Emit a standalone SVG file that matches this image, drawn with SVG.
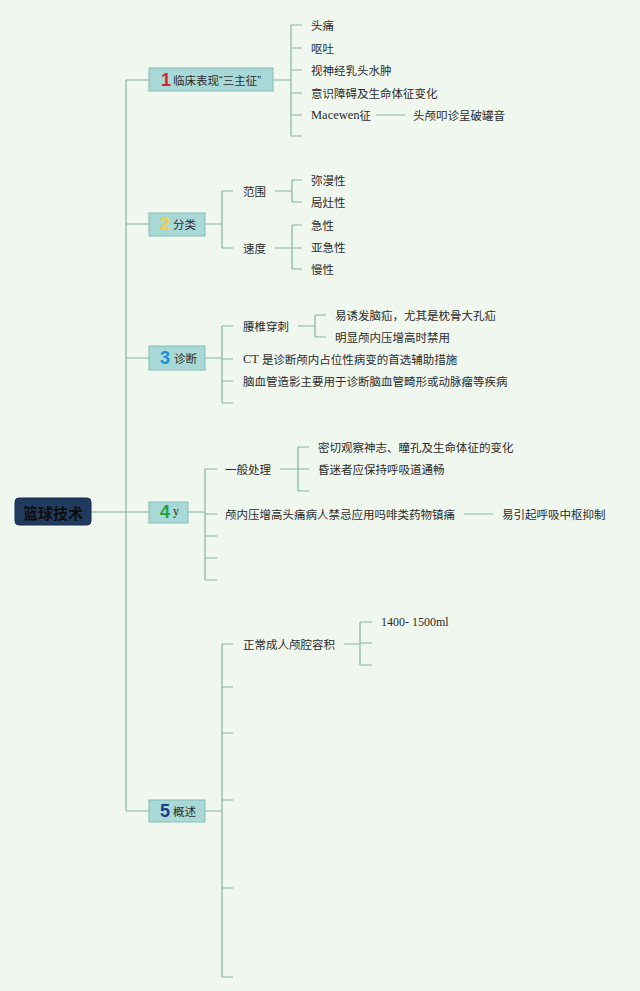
<svg xmlns="http://www.w3.org/2000/svg" width="640" height="991" viewBox="0 0 640 991">
<style>
.bg{fill:#eff7ef}
.ln{stroke:#86b5a2;stroke-width:1.2;fill:none}
.t{font-family:"Noto Sans CJK SC","Noto Sans",sans-serif;font-size:11.5px;fill:#2b2b2b;dominant-baseline:central}
.s{font-family:"Liberation Serif","Noto Sans CJK SC",serif;font-size:12px;fill:#2b2b2b;dominant-baseline:central}
.box{fill:#a9d9d6;stroke:#82bdb7;stroke-width:1}
.num{font-family:"Liberation Sans","Noto Sans",sans-serif;font-weight:bold;font-size:18px;dominant-baseline:central;text-anchor:middle}
.root{fill:#213b5f;stroke:#1a2f4d;stroke-width:1}
.rt{font-family:"Noto Sans CJK SC",sans-serif;font-size:15px;font-weight:bold;fill:#0d0d0d;dominant-baseline:central}
.q{font-family:"Liberation Sans",sans-serif}
</style>
<rect class="bg" x="0" y="0" width="640" height="991"/>
<g id="connectors">
<path class="ln" d="M91 512H149 M126 80V811 M126 80H149 M126 224H149 M126 358H149 M126 811H149"/>
<path class="ln" d="M273 80H291 M291 25V136 M291 25H302 M291 48H302 M291 70H302 M291 93H302 M291 115H302 M291 136H302 M376 115H405"/>
<path class="ln" d="M205 224H222 M222 191V248 M222 191H233 M222 248H233 M275 191H292 M292 180V202 M292 180H302 M292 202H302 M275 248H302 M292 225V269 M292 225H302 M292 269H302"/>
<path class="ln" d="M205 358H222 M222 326V403 M222 326H233 M222 359H233 M222 381H233 M222 403H233 M298 326H315 M315 315V337 M315 315H326 M315 337H326"/>
<path class="ln" d="M188 512H205 M205 469V580 M205 469H217 M205 514H217 M205 536H217 M205 558H217 M205 580H217 M280 469H298 M298 447V491 M298 447H309 M298 469H309 M298 491H309 M464 514H493"/>
<path class="ln" d="M205 811H222 M222 644V977 M222 644H233 M222 687H233 M222 733H233 M222 800H233 M222 888H233 M222 977H233 M344 644H360 M360 622V665 M360 622H372 M360 643H372 M360 665H372"/>
</g>
<g id="root">
<rect class="root" x="15" y="498" width="76" height="27" rx="4"/>
<text class="rt" x="53" y="512" text-anchor="middle">篮球技术</text>
</g>
<g id="n1">
<rect class="box" x="149" y="68" width="124" height="23"/>
<text class="num" x="166" y="80" fill="#d9232e">1</text>
<text class="t" x="173" y="80">临床表现<tspan class="q">“</tspan>三主征<tspan class="q">”</tspan></text>
</g>
<g id="n1c">
<text class="t" x="311" y="25">头痛</text>
<text class="t" x="311" y="48">呕吐</text>
<text class="t" x="311" y="70">视神经乳头水肿</text>
<text class="t" x="311" y="93">意识障碍及生命体征变化</text>
<text class="t" x="311" y="115"><tspan font-family="Liberation Serif" font-size="12.5px">Macewen</tspan>征</text>
<text class="t" x="413" y="115">头颅叩诊呈破罐音</text>
</g>
<g id="n2">
<rect class="box" x="149" y="213" width="56" height="23"/>
<text class="num" x="165" y="224" fill="#f2d23a">2</text>
<text class="t" x="173" y="224">分类</text>
</g>
<g id="n2c">
<text class="t" x="243" y="191">范围</text>
<text class="t" x="243" y="248">速度</text>
<text class="t" x="311" y="180">弥漫性</text>
<text class="t" x="311" y="202">局灶性</text>
<text class="t" x="311" y="225">急性</text>
<text class="t" x="311" y="247">亚急性</text>
<text class="t" x="311" y="269">慢性</text>
</g>
<g id="n3">
<rect class="box" x="149" y="346" width="56" height="24"/>
<text class="num" x="165" y="358" fill="#1f8fd6">3</text>
<text class="t" x="174" y="358">诊断</text>
</g>
<g id="n3c">
<text class="t" x="243" y="326">腰椎穿刺</text>
<text class="t" x="335" y="315">易诱发脑疝，尤其是枕骨大孔疝</text>
<text class="t" x="335" y="337">明显颅内压增高时禁用</text>
<text class="t" x="243" y="359"><tspan font-family="Liberation Serif" font-size="12.5px">CT </tspan>是诊断颅内占位性病变的首选辅助措施</text>
<text class="t" x="243" y="381">脑血管造影主要用于诊断脑血管畸形或动脉瘤等疾病</text>
</g>
<g id="n4">
<rect class="box" x="149" y="502" width="39" height="21"/>
<text class="num" x="165" y="512" fill="#23a23a">4</text>
<text class="s" x="173" y="511">y</text>
</g>
<g id="n4c">
<text class="t" x="225" y="469">一般处理</text>
<text class="t" x="318" y="447">密切观察神志、瞳孔及生命体征的变化</text>
<text class="t" x="318" y="469">昏迷者应保持呼吸道通畅</text>
<text class="t" x="225" y="514">颅内压增高头痛病人禁忌应用吗啡类药物镇痛</text>
<text class="t" x="502" y="514">易引起呼吸中枢抑制</text>
</g>
<g id="n5">
<rect class="box" x="149" y="800" width="56" height="22"/>
<text class="num" x="165" y="811" fill="#1e3a8a">5</text>
<text class="t" x="173" y="811">概述</text>
</g>
<g id="n5c">
<text class="t" x="243" y="644">正常成人颅腔容积</text>
<text class="s" x="381" y="622">1400- 1500ml</text>
</g>
</svg>
